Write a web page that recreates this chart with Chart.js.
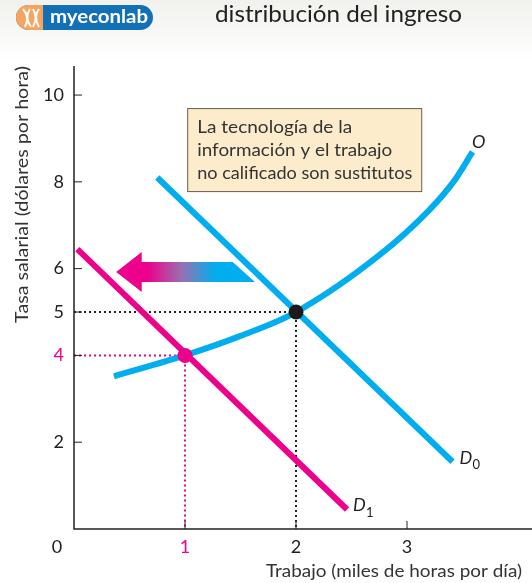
<!DOCTYPE html>
<html>
<head>
<meta charset="utf-8">
<script src="https://cdn.jsdelivr.net/npm/chart.js@4.4.1/dist/chart.umd.min.js"></script>
<style>
  html, body { margin: 0; padding: 0; background: #fff; }
  #wrap { width: 532px; height: 583px; position: relative; }
</style>
</head>
<body>
<div id="wrap"><canvas id="chart" width="532" height="583"></canvas></div>
<script>
// --- data ---
const supplyX = [0.36, 1, 1.5, 2, 2.75, 3.2, 3.43, 3.59];
const supplyY = [3.52, 4, 4.45, 5, 6.31, 7.35, 8.04, 8.69];
const demand0X = [0.75, 3.41];
const demand0Y = [8.1, 1.55];
const demand1X = [0.03, 2.46];
const demand1Y = [6.45, 0.45];
const eq0 = [2, 5];
const eq1 = [1, 4];
const xTicks = [1, 2, 3];
const yTicks = [2, 4, 5, 6, 8, 10];

const CYAN = "#00aeef";
const MAGENTA = "#ec008c";
const FONT = "Lato, 'Open Sans', sans-serif";

function pts(xs, ys) {
  return xs.map((x, i) => ({ x: x, y: ys[i] }));
}

// draw text stretched to a given width (the original face is wider than Lato)
function fitText(ctx, s, x, y, width, align) {
  const w = ctx.measureText(s).width;
  ctx.save();
  ctx.translate(x, y);
  ctx.scale(width / w, 1);
  ctx.textAlign = align || "left";
  ctx.fillText(s, 0, 0);
  ctx.restore();
}

// --- custom drawing: header, axes, labels, box, arrow ---
const decor = {
  id: "decor",
  beforeDraw(chart) {
    const ctx = chart.ctx;
    const g = ctx.createLinearGradient(0, 0, 0, 62);
    g.addColorStop(0, "#f1f1ed");
    g.addColorStop(1, "#ffffff");
    ctx.save();
    ctx.fillStyle = g;
    ctx.fillRect(0, 0, chart.width, 62);

    // logo pill
    ctx.beginPath();
    ctx.roundRect(16, 5, 137, 25, 12.5);
    ctx.fillStyle = "#1271b6";
    ctx.fill();
    ctx.save();
    ctx.clip();
    ctx.fillStyle = "#f6a45e";
    ctx.fillRect(16, 5, 27, 25);
    ctx.restore();
    ctx.strokeStyle = "#fff";
    ctx.lineWidth = 2;
    ctx.beginPath();
    ctx.moveTo(23, 9); ctx.quadraticCurveTo(30, 17, 25, 27);
    ctx.moveTo(30, 9); ctx.quadraticCurveTo(24, 17, 31, 27);
    ctx.moveTo(33, 9); ctx.quadraticCurveTo(38, 17, 33, 27);
    ctx.moveTo(39, 9); ctx.quadraticCurveTo(33, 17, 39, 27);
    ctx.stroke();
    ctx.fillStyle = "#fff";
    ctx.font = "bold 18px " + FONT;
    ctx.textBaseline = "middle";
    fitText(ctx, "myeconlab", 50, 17, 98);

    ctx.fillStyle = "#222";
    ctx.font = "24px " + FONT;
    fitText(ctx, "distribución del ingreso", 215, 14, 247);
    ctx.restore();
  },
  afterDatasetsDraw(chart) {
    const ctx = chart.ctx;
    const xs = chart.scales.x, ys = chart.scales.y;
    const px = (v) => xs.getPixelForValue(v);
    const py = (v) => ys.getPixelForValue(v);
    const area = chart.chartArea;
    ctx.save();

    // axes
    ctx.strokeStyle = "#222";
    ctx.lineWidth = 1.5;
    ctx.beginPath();
    ctx.moveTo(area.left, area.top);
    ctx.lineTo(area.left, area.bottom);
    ctx.lineTo(area.right, area.bottom);
    ctx.stroke();
    ctx.lineWidth = 1;
    ctx.beginPath();
    yTicks.forEach((t) => {
      ctx.moveTo(area.left, py(t));
      ctx.lineTo(area.left + 8, py(t));
    });
    xTicks.forEach((t) => {
      ctx.moveTo(px(t), area.bottom);
      ctx.lineTo(px(t), area.bottom - 8);
    });
    ctx.stroke();

    // tick labels
    ctx.font = "18px " + FONT;
    ctx.textBaseline = "middle";
    ctx.textAlign = "right";
    yTicks.forEach((t) => {
      ctx.fillStyle = t === eq1[1] ? MAGENTA : "#222";
      ctx.fillText(String(t), area.left - 10, py(t));
    });
    ctx.textAlign = "center";
    ctx.fillStyle = "#222";
    ctx.fillText("0", 57, area.bottom + 18);
    xTicks.forEach((t) => {
      ctx.fillStyle = t === eq1[0] ? MAGENTA : "#222";
      ctx.fillText(String(t), px(t), area.bottom + 18);
    });

    // axis titles
    ctx.fillStyle = "#333";
    ctx.font = "17px " + FONT;
    fitText(ctx, "Trabajo (miles de horas por día)", 522, 572, 256, "right");
    ctx.save();
    ctx.translate(23, area.top);
    ctx.rotate(-Math.PI / 2);
    fitText(ctx, "Tasa salarial (dólares por hora)", 0, 0, 257, "right");
    ctx.restore();

    // note box
    const bx = px(1.02), by = py(9.7), bw = 234, bh = 83;
    ctx.fillStyle = "#fdeccb";
    ctx.fillRect(bx, by, bw, bh);
    ctx.strokeStyle = "#6b5a4a";
    ctx.lineWidth = 1;
    ctx.strokeRect(bx + 0.5, by + 0.5, bw, bh);
    ctx.fillStyle = "#333";
    ctx.font = "17px " + FONT;
    const lines = ["La tecnología de la", "información y el trabajo", "no calificado son sustitutos"];
    const widths = [155, 195, 215];
    lines.forEach((s, i) => fitText(ctx, s, bx + 10, by + 19 + i * 23, widths[i]));

    // shift arrow
    const ay = py(5.92);
    const tip = px(0.38), back = px(0.61);
    const rTop = px(1.43), rBot = px(1.63);
    const grad = ctx.createLinearGradient(px(0.66), 0, px(1.27), 0);
    grad.addColorStop(0, MAGENTA);
    grad.addColorStop(0.5, "#9b6fb0");
    grad.addColorStop(1, CYAN);
    ctx.fillStyle = grad;
    ctx.beginPath();
    ctx.moveTo(tip, ay);
    ctx.lineTo(back, ay - 20);
    ctx.lineTo(back, ay - 10);
    ctx.lineTo(rTop, ay - 10);
    ctx.lineTo(rBot, ay + 10);
    ctx.lineTo(back, ay + 10);
    ctx.lineTo(back, ay + 20);
    ctx.closePath();
    ctx.fill();

    // curve labels
    ctx.fillStyle = "#222";
    ctx.font = "italic 18px " + FONT;
    ctx.textAlign = "center";
    ctx.fillText("O", px(3.61) + 4, py(8.69) - 10);
    ctx.textAlign = "left";
    ctx.fillText("D", px(3.41) + 7, py(1.55) - 4);
    ctx.fillText("D", px(2.46) + 6, py(0.45) - 4);
    ctx.font = "13px " + FONT;
    ctx.fillText("0", px(3.41) + 20, py(1.55) + 3);
    ctx.fillText("1", px(2.46) + 19, py(0.45) + 3);
    ctx.restore();
  }
};

new Chart(document.getElementById("chart"), {
  type: "scatter",
  data: {
    datasets: [
      {
        label: "guía 5",
        data: [{ x: 0, y: eq0[1] }, { x: eq0[0], y: eq0[1] }, { x: eq0[0], y: 0 }],
        showLine: true, borderColor: "#222", borderWidth: 2, borderDash: [2, 3],
        pointRadius: 0, order: 5
      },
      {
        label: "guía 4",
        data: [{ x: 0, y: eq1[1] }, { x: eq1[0], y: eq1[1] }, { x: eq1[0], y: 0 }],
        showLine: true, borderColor: MAGENTA, borderWidth: 2, borderDash: [2, 3],
        pointRadius: 0, order: 5
      },
      {
        label: "D1",
        data: pts(demand1X, demand1Y),
        showLine: true, borderColor: MAGENTA, borderWidth: 6, borderCapStyle: "butt",
        pointRadius: 0, order: 4
      },
      {
        label: "D0",
        data: pts(demand0X, demand0Y),
        showLine: true, borderColor: CYAN, borderWidth: 6, borderCapStyle: "butt",
        pointRadius: 0, order: 3
      },
      {
        label: "O",
        data: pts(supplyX, supplyY),
        showLine: true, borderColor: CYAN, borderWidth: 6, borderCapStyle: "butt",
        cubicInterpolationMode: "monotone", pointRadius: 0, order: 2
      },
      {
        label: "equilibrio",
        data: [{ x: eq0[0], y: eq0[1] }, { x: eq1[0], y: eq1[1] }],
        pointRadius: 7.5, pointBackgroundColor: ["#1a1a1a", MAGENTA],
        pointBorderWidth: 0, order: 1
      }
    ]
  },
  options: {
    responsive: false,
    animation: false,
    devicePixelRatio: 1,
    layout: { autoPadding: false, padding: { left: 74, right: 0, top: 66, bottom: 54 } },
    plugins: { legend: { display: false }, tooltip: { enabled: false } },
    scales: {
      x: { type: "linear", display: false, min: 0, max: 4.126 },
      y: { type: "linear", display: false, min: 0, max: 10.67 }
    }
  },
  plugins: [decor]
});
</script>
</body>
</html>
